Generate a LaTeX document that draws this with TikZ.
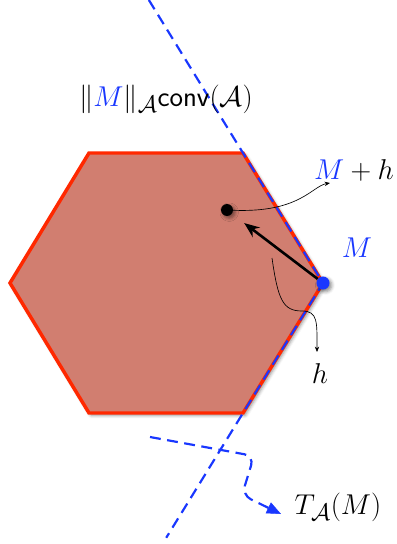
\documentclass[tikz,border=0pt]{standalone}
\usetikzlibrary{arrows.meta,calc,shadows.blur}
\definecolor{hexfill}{RGB}{209,126,112}
\definecolor{hexedge}{RGB}{255,40,0}
\definecolor{myblue}{RGB}{25,55,255}
\newcommand{\bigtxt}[1]{\scalebox{1.06}{#1}}
\tikzset{
  tangent/.style={myblue, line width=2pt, dash pattern=on 10pt off 6pt},
  lbl/.style={inner sep=0pt, font=\Huge},
  thinconn/.style={black, line width=0.6pt, -{Stealth[length=5pt,width=4pt]}},
  shad/.style={blur shadow={shadow xshift=2pt, shadow yshift=-2pt, shadow blur radius=3pt, shadow opacity=45}}
}
\begin{document}
\begin{tikzpicture}[x=0.92pt,y=-0.92pt]
\useasboundingbox (0,0) rectangle (396,544);
\coordinate (tl) at (89,153);
\coordinate (tr) at (243,153);
\coordinate (r) at (323,283);
\coordinate (br) at (243,413);
\coordinate (bl) at (89,413);
\coordinate (l) at (10,283);
% hexagon
\path[shad, fill=hexfill, draw=hexedge, line width=3.2pt, line join=miter]
  (tl) -- (tr) -- (r) -- (br) -- (bl) -- (l) -- cycle;
% tangent cone
\coordinate (rayA) at ($(r)!2.177!(tr)$);
\coordinate (rayB) at ($(r)!1.96!(br)$);
\draw[tangent] (rayA) -- (r) -- (rayB);
% points
\node[shad, circle, fill=black, inner sep=0pt, minimum size=11pt] (dot) at (227,210) {};
\node[shad, circle, fill=myblue, inner sep=0pt, minimum size=12pt] (M) at (r) {};
% main arrow
\draw[line width=2.4pt, -{Stealth[length=14pt,width=11pt]}, shorten >=1pt] (M) -- ($(M)!0.83!(dot)$) coordinate (tip);
% labels
\node[lbl] (title) at (166,99) {\bigtxt{$\|\textcolor{myblue}{M}\|_{\mathcal{A}}\mathsf{conv}(\mathcal{A})$}};
\node[lbl] (Mh) at (354,170) {\bigtxt{$\textcolor{myblue}{M}+h$}};
\node[lbl] (Mlab) at (357,248) {\bigtxt{$\textcolor{myblue}{M}$}};
\node[lbl] (hlab) at (320,374) {\bigtxt{$h$}};
\node[lbl] (T) at (338,507) {\bigtxt{$T_{\mathcal{A}}(M)$}};
% annotation connectors
\coordinate (mhend) at (330,183);
\draw[thinconn] (dot) .. controls (300,213) and (312,186) .. (mhend);
\coordinate (hstart) at (272,258);
\coordinate (hend) at (317,352);
\draw[thinconn] (hstart) .. controls (278,300) and (283,311) .. (302,311)
  .. controls (318,311) and (317,322) .. (hend);
\coordinate (ts) at (150,437);
\coordinate (tend) at (281,514);
\draw[tangent, rounded corners=9pt] (ts) -- (254,456) -- (242,495) -- ($(tend)!10pt!(242,495)$);
\draw[myblue, -{Triangle[length=13pt,width=11pt]}] ($(tend)!11pt!(242,495)$) -- (tend);
\end{tikzpicture}
\end{document}
